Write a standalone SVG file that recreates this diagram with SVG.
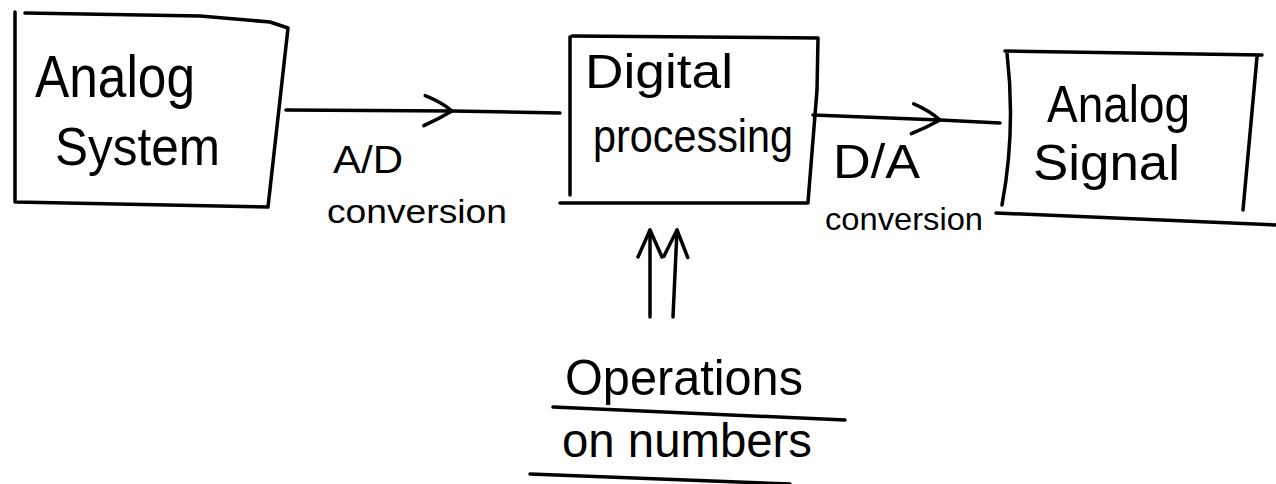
<svg xmlns="http://www.w3.org/2000/svg" width="1276" height="484" viewBox="0 0 1276 484">
<style>
.s{fill:none;stroke:#000;stroke-width:3.5;stroke-linecap:round;stroke-linejoin:round}
.t{font-family:"Liberation Sans",Arial,sans-serif;fill:#000}
</style>
<defs>
<marker id="chev" markerUnits="userSpaceOnUse" viewBox="0 0 34 36" markerWidth="34" markerHeight="36" refX="31" refY="18" orient="auto">
<path d="M4,3 Q20,9 31,18 Q18,26 3,33" fill="none" stroke="#000" stroke-width="3.5" stroke-linecap="round" stroke-linejoin="round"/>
</marker>
<marker id="up" markerUnits="userSpaceOnUse" viewBox="0 0 32 30" markerWidth="32" markerHeight="30" refX="29" refY="15" orient="auto">
<path d="M2,3 L29,15 L2,27" fill="none" stroke="#000" stroke-width="3.5" stroke-linecap="round" stroke-linejoin="round"/>
</marker>
</defs>
<rect width="1276" height="484" fill="#fff"/>
<g id="connectors">
<path class="s" d="M286,110 L452,111 L560,113" marker-mid="url(#chev)"/>
<path class="s" d="M813,115 L940,120 L1000,123" marker-mid="url(#chev)"/>
<path class="s" d="M650,317 L650,230" marker-end="url(#up)"/>
<path class="s" d="M673,317 L677,230" marker-end="url(#up)"/>
</g>
<g id="analog-system">
<path class="s" d="M15,12 L15,202 L268,207 L288,28 L270,22 L200,16 L25,13"/>
<text class="t" x="35" y="97" font-size="60" textLength="160" lengthAdjust="spacingAndGlyphs">Analog</text>
<text class="t" x="55" y="165" font-size="54" textLength="165" lengthAdjust="spacingAndGlyphs">System</text>
</g>
<g id="digital-processing">
<path class="s" d="M570,37 L570,195 M572,36 L818,38 M818,38 L817,90 L808,202 M560,203 L808,203"/>
<text class="t" x="585" y="88" font-size="48" textLength="148" lengthAdjust="spacingAndGlyphs">Digital</text>
<text class="t" x="593" y="152" font-size="46" textLength="200" lengthAdjust="spacingAndGlyphs">processing</text>
</g>
<g id="analog-signal">
<path class="s" d="M1007,53 Q1016,130 1002,205 M1005,51 L1262,55 M1257,57 L1243,210 M996,213 L1276,225"/>
<text class="t" x="1047" y="122" font-size="52" textLength="143" lengthAdjust="spacingAndGlyphs">Analog</text>
<text class="t" x="1033" y="180" font-size="50" textLength="147" lengthAdjust="spacingAndGlyphs">Signal</text>
</g>
<g id="ad-label">
<text class="t" x="333" y="173" font-size="38" textLength="70" lengthAdjust="spacingAndGlyphs">A/D</text>
<text class="t" x="327" y="223" font-size="34" textLength="180" lengthAdjust="spacingAndGlyphs">conversion</text>
</g>
<g id="da-label">
<text class="t" x="833" y="178" font-size="48" textLength="87" lengthAdjust="spacingAndGlyphs">D/A</text>
<text class="t" x="825" y="230" font-size="32" textLength="158" lengthAdjust="spacingAndGlyphs">conversion</text>
</g>
<g id="operations">
<text class="t" x="565" y="395" font-size="50" textLength="238" lengthAdjust="spacingAndGlyphs">Operations</text>
<path class="s" d="M553,407 L845,420"/>
<text class="t" x="562" y="457" font-size="48" textLength="250" lengthAdjust="spacingAndGlyphs">on numbers</text>
<path class="s" d="M530,474 L790,484"/>
</g>
</svg>
